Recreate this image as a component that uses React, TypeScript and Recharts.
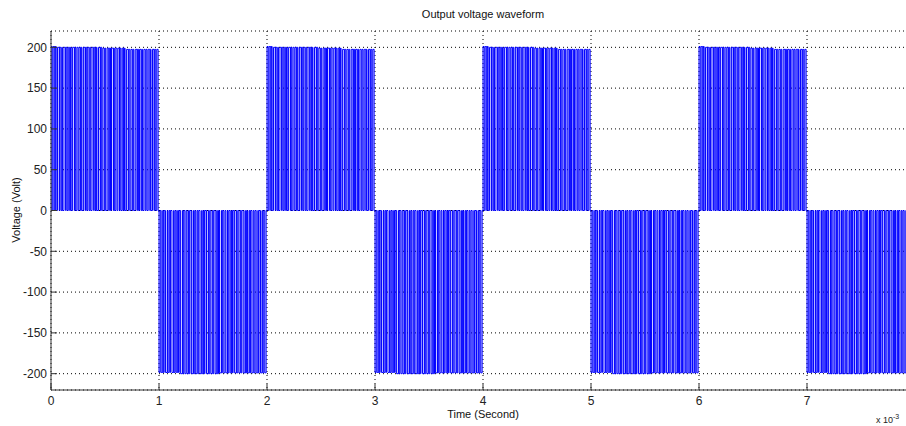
import React from 'react';
import { LineChart, Line, XAxis, YAxis, CartesianGrid } from 'recharts';

// axis ticks (8 sits on the clipped right edge, so it gets a tick but no label)
const xTicks = [0, 1, 2, 3, 4, 5, 6, 7, 8];
const xLabelTicks = [0, 1, 2, 3, 4, 5, 6, 7];
const yTicks = [-200, -150, -100, -50, 0, 50, 100, 150, 200];

// one entry per half cycle (ms)
const halfCycleSigns = [1, -1, 1, -1, 1, -1, 1, -1];

// plateau levels inside a half cycle, with the fraction where each ends
const posLevels = [201, 200, 199, 197.5];
const posLevelEnds = [0.05, 0.48, 0.7, 1];
const negLevels = [-198.5, -200, -199];
const negLevelEnds = [0.2, 0.55, 1];

// duty of each switching pulse in a half cycle
const pulseDuty = [
  0.55, 0.72, 0.38, 0.8, 0.58, 0.3, 0.76, 0.5, 0.64, 0.35,
  0.82, 0.45, 0.57, 0.7, 0.32, 0.78, 0.53, 0.62, 0.4, 0.74,
  0.56, 0.28, 0.79, 0.48, 0.66, 0.36, 0.73, 0.54, 0.84, 0.33,
  0.58, 0.71, 0.42, 0.6, 0.3, 0.77, 0.5, 0.65, 0.34, 0.8,
  0.55, 0.68, 0.39, 0.61, 0.47, 0.75, 0.31, 0.69, 0.52, 0.6,
];

const levelAt = (sign: number, frac: number) => {
  const levels = sign > 0 ? posLevels : negLevels;
  const ends = sign > 0 ? posLevelEnds : negLevelEnds;
  const i = ends.findIndex((e) => frac < e);
  return levels[i < 0 ? levels.length - 1 : i];
};

const data: { t: number; v: number }[] = [];
halfCycleSigns.forEach((sign, h) => {
  const n = pulseDuty.length;
  pulseDuty.forEach((d, k) => {
    const ts = h + k / n;
    const te = ts + d / n;
    const lvl = levelAt(sign, k / n);
    data.push({ t: ts, v: 0 }, { t: ts, v: lvl }, { t: te, v: lvl }, { t: te, v: 0 });
  });
});

const font = '"Liberation Sans", Arial, sans-serif';
const tickStyle = { fontSize: 12, fill: '#222', fontFamily: font };

const BottomTick = (props: any) => {
  const { x, y, payload } = props;
  if (!xLabelTicks.includes(payload.value)) return null;
  return (
    <text x={x} y={y} dy={10} textAnchor="middle" {...tickStyle}>
      {payload.value}
    </text>
  );
};

export default function App() {
  return (
    <div
      style={{
        position: 'absolute',
        left: 0,
        top: 0,
        width: 906,
        height: 426,
        overflow: 'hidden',
        background: '#fff',
        fontFamily: font,
      }}
    >
      <div
        style={{
          position: 'absolute',
          top: 8,
          left: 51,
          width: 864,
          textAlign: 'center',
          fontSize: 11,
          color: '#111',
        }}
      >
        Output voltage waveform
      </div>
      <div
        style={{
          position: 'absolute',
          left: 16,
          top: 210,
          transform: 'translate(-50%, -50%) rotate(-90deg)',
          fontSize: 11,
          color: '#111',
          whiteSpace: 'nowrap',
        }}
      >
        Voltage (Volt)
      </div>
      <div
        style={{
          position: 'absolute',
          left: 51,
          width: 864,
          top: 408,
          textAlign: 'center',
          fontSize: 11,
          color: '#111',
        }}
      >
        Time (Second)
      </div>
      <div style={{ position: 'absolute', left: 876, top: 413, fontSize: 9, color: '#222', whiteSpace: 'nowrap' }}>
        x 10<sup style={{ fontSize: 7 }}>-3</sup>
      </div>
      <div style={{ position: 'absolute', left: 0, top: 0 }}>
        <LineChart width={930} height={426} data={data} margin={{ top: 31, right: 15, bottom: 0, left: 8 }}>
          <CartesianGrid stroke="#000" strokeDasharray="1 3" strokeWidth={1} horizontal vertical />
          <XAxis
            dataKey="t"
            type="number"
            domain={[0, 8]}
            ticks={xTicks}
            allowDataOverflow
            height={36}
            tickSize={-6}
            tickMargin={11}
            tick={<BottomTick />}
            stroke="#333"
          />
          <XAxis
            xAxisId="top"
            orientation="top"
            dataKey="t"
            type="number"
            domain={[0, 8]}
            ticks={xTicks}
            allowDataOverflow
            height={0}
            tickSize={-6}
            tick={false}
            stroke="#333"
          />
          <YAxis
            type="number"
            domain={[-220, 220]}
            ticks={yTicks}
            allowDataOverflow
            width={43}
            tickSize={-6}
            tickMargin={10}
            tick={tickStyle}
            stroke="#333"
          />
          <Line
            type="linear"
            dataKey="v"
            stroke="#0000ff"
            strokeWidth={1}
            dot={false}
            activeDot={false}
            isAnimationActive={false}
          />
        </LineChart>
      </div>
    </div>
  );
}
